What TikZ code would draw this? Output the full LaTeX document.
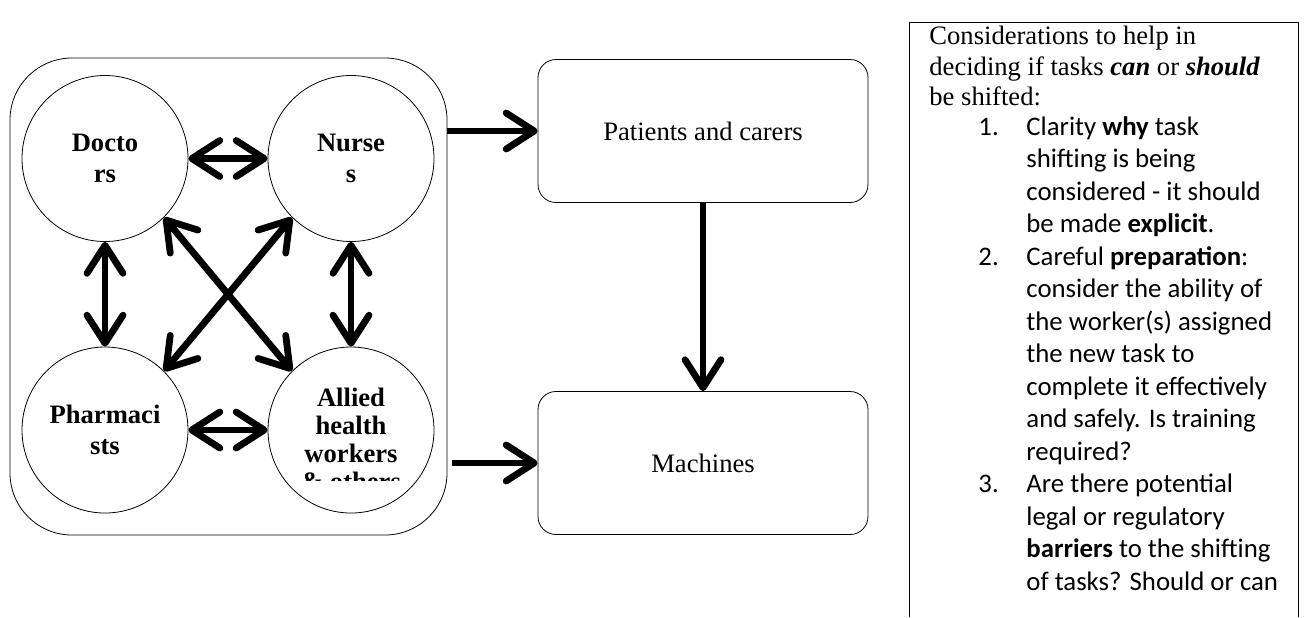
\documentclass[tikz,border=0pt]{standalone}
\usepackage{fontspec}
\setmainfont{Liberation Serif}
\newfontfamily\calibri{Carlito}
\usetikzlibrary{arrows.meta,positioning}

\begin{document}
\begin{tikzpicture}[
  x=0.5pt, y=-0.5pt,
  staff/.style={
    draw,
    circle,
    inner sep=0pt,
    minimum size=83pt,
    align=center,
    font=\fontsize{13.3}{15.5}\selectfont\bfseries
    },
  sector/.style={
    draw,
    rounded corners=9pt,
    minimum width=165pt,
    minimum height=71.5pt,
    font=\fontsize{13.3}{15}\selectfont
  },
  swap/.style={
    line width=3.4pt,
    {Straight Barb[length=14pt,width=18pt,round]}-{Straight Barb[length=14pt,width=18pt,round]}
  },
  handover/.style={
    line width=3.4pt,
    -{Straight Barb[length=14pt,width=18pt,round]}
  }
]
\useasboundingbox (0,0) rectangle (1304,617);

% workforce group
\node[draw, rounded corners=31pt, minimum width=218.5pt, minimum height=238.5pt] (team) at (228.5,296.5) {};
\node[staff] (doc) at (105,158.5) {Docto\\rs};
\node[staff] (nur) at (351,158.5) {Nurse\\s};
\node[staff] (pha) at (105,430) {Pharmaci\\sts};
\node[staff] (all) at (351,430) {};
\begin{scope}
  \clip (all.west |- 0,360) rectangle (all.east |- 0,480);
  \node[font=\fontsize{13.3}{14}\selectfont\bfseries, align=center] (alltext) at (351,439) {Allied\\health\\workers\\\& others};
\end{scope}

\draw[swap] (doc) -- (nur);
\draw[swap] (pha) -- (all);
\draw[swap] (doc) -- (pha);
\draw[swap] (nur) -- (all);
\draw[swap] (doc.-45) -- (all.135);
\draw[swap] (nur.-135) -- (pha.45);

% receivers
\node[sector] (pat) at (703,131) {Patients and carers};
\node[sector] (mac) at (703,463) {Machines};

\draw[handover] (team.east |- pat.west) -- (pat.west);
\draw[handover] ([xshift=2.5pt]team.east |- mac.west) -- (mac.west);
\draw[handover] (pat) -- (mac);

% considerations panel
\draw (909,617) -- (909,22) -- (1298,22) -- (1298,617);
\node[anchor=north west, inner sep=0pt, align=left, font=\fontsize{13.3}{15.25}\selectfont] (intro) at (929,26)
  {Considerations to help in\\
   deciding if tasks \textbf{\textit{can}} or \textbf{\textit{should}}\\
   be shifted:};
\node[anchor=north west, inner sep=0pt, font=\calibri\fontsize{13.4}{16.25}\selectfont] (items) at (978,112)
  {\begin{tabular}{@{}p{24pt}@{}l@{}}
   1. & Clarity \textbf{why} task\\
      & shifting is being\\
      & considered - it should\\
      & be made \textbf{explicit}.\\
   2. & Careful \textbf{preparation}:\\
      & consider the ability of\\
      & the worker(s) assigned\\
      & the new task to\\
      & complete it effectively\\
      & and safely. Is training\\
      & required?\\
   3. & Are there potential\\
      & legal or regulatory\\
      & \textbf{barriers} to the shifting\\
      & of tasks? Should or can
   \end{tabular}};

\end{tikzpicture}
\end{document}
